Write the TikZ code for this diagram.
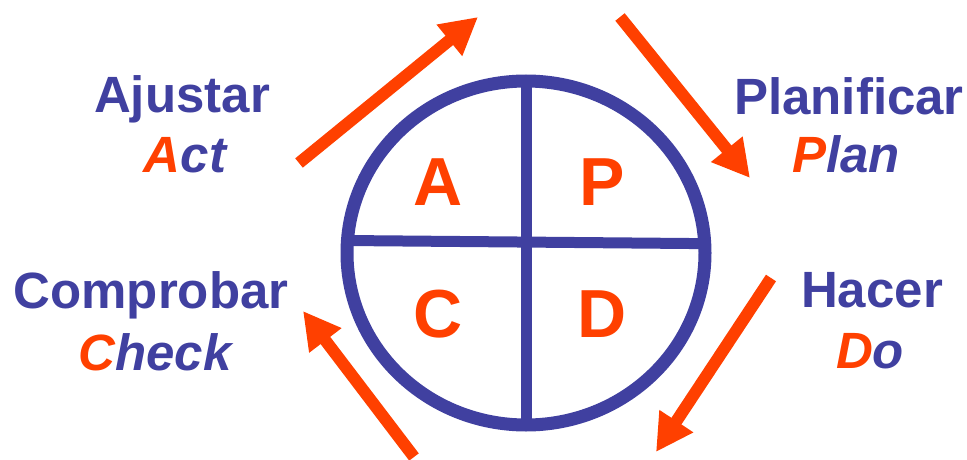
\documentclass[tikz,border=0pt]{standalone}
\usepackage{fontspec}
\setmainfont{Liberation Sans}
\usetikzlibrary{arrows.meta,shapes.geometric}
\definecolor{pdcablue}{RGB}{64,64,160}
\definecolor{pdcaorange}{RGB}{255,64,0}

\begin{document}
\begin{tikzpicture}[
  x=1pt, y=-1pt,
  ring/.style={draw=pdcablue, ellipse, line width=13pt,
               minimum width=358pt, minimum height=344pt,
               inner sep=0pt, outer sep=0pt},
  bar/.style={draw=pdcablue, line width=11pt},
  cyc/.style={draw=pdcaorange, line width=12pt,
              -{Triangle[length=37pt,width=38pt]}},
  phase/.style={text=pdcaorange, anchor=base, inner sep=0pt,
                font=\fontsize{68}{68}\selectfont\bfseries},
  es/.style={text=pdcablue, anchor=base, inner sep=0pt,
             font=\fontsize{51}{51}\selectfont\bfseries},
  en/.style={text=pdcablue, anchor=base, inner sep=0pt,
             font=\fontsize{51}{51}\selectfont\bfseries\itshape},
]
  \useasboundingbox (0,0) rectangle (967,460);

  %% the wheel
  \node[ring] (wheel) at (526,253) {};
  \draw[bar] (wheel.north) -- (wheel.south);
  \draw[bar] (wheel.176.8) -- (wheel.3.2);

  %% quadrant letters
  \node[phase] (ph_a) at (438,205) {A};
  \node[phase] (ph_p) at (602,205) {P};
  \node[phase] (ph_c) at (438,337) {C};
  \node[phase] (ph_d) at (602,337) {D};

  %% labels
  \node[es] (lb_adj) at (182,112) {Ajustar};
  \node[en] (lb_act) at (185,172) {\textcolor{pdcaorange}{A}ct};
  \node[es] (lb_pla) at (849,114) {Planificar};
  \node[en] (lb_plan) at (846,172) {\textcolor{pdcaorange}{P}lan};
  \node[es] (lb_com) at (151,308) {Comprobar};
  \node[en] (lb_chk) at (155,370) {\textcolor{pdcaorange}{C}heck};
  \node[es] (lb_hac) at (872,307) {Hacer};
  \node[en] (lb_do) at (870,368) {\textcolor{pdcaorange}{D}o};

  %% cycle arrows
  \coordinate (ar1_s) at (299,163);
  \coordinate (ar1_e) at (478,17);
  \coordinate (ar2_s) at (620,17);
  \coordinate (ar2_e) at (750,178);
  \coordinate (ar3_s) at (771,278);
  \coordinate (ar3_e) at (656,452);
  \coordinate (ar4_s) at (414,457);
  \coordinate (ar4_e) at (303,311);
  \draw[cyc] (ar1_s) -- (ar1_e);
  \draw[cyc] (ar2_s) -- (ar2_e);
  \draw[cyc] (ar3_s) -- (ar3_e);
  \draw[cyc] (ar4_s) -- (ar4_e);
\end{tikzpicture}
\end{document}
